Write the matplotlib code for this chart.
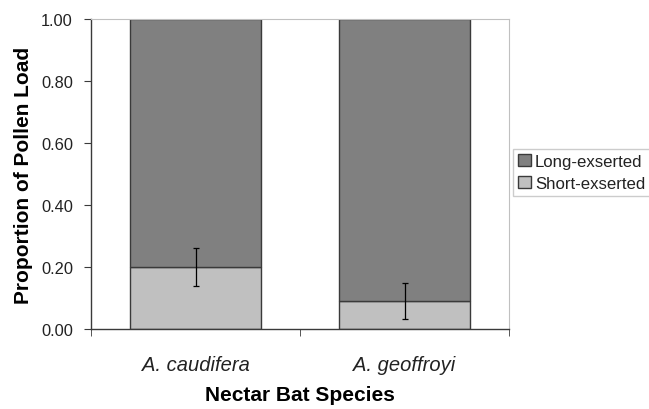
import matplotlib.pyplot as plt
import numpy as np

species = ["A. caudifera", "A. geoffroyi"]
short_prop = [0.20, 0.09]
short_err = [0.06, 0.057]
long_prop = [1 - v for v in short_prop]
yticks = [0.0, 0.2, 0.4, 0.6, 0.8, 1.0]

plt.rcParams["font.family"] = ["Liberation Sans", "DejaVu Sans"]

fig = plt.figure(figsize=(6.49, 4.10), dpi=100)
ax = fig.add_axes([91 / 649, 80 / 410, 418 / 649, 310 / 410])

x = np.arange(len(species))
w = 0.63
ax.bar(x, short_prop, w, color="#c0c0c0", edgecolor="#3a3a3a", linewidth=1.0,
       label="Short-exserted", zorder=2)
ax.bar(x, long_prop, w, bottom=short_prop, color="#808080", edgecolor="#3a3a3a",
       linewidth=1.0, label="Long-exserted", zorder=2)
ax.errorbar(x, short_prop, yerr=short_err, fmt="none", ecolor="black",
            elinewidth=0.9, capsize=2, capthick=0.9, zorder=3)

ax.set_xlim(-0.5, len(species) - 0.5)
ax.set_ylim(0, 1)
ax.set_yticks(yticks)
ax.set_yticklabels([f"{v:.2f}" for v in yticks], fontsize=11.8, color="#222222")
ax.set_xticks(x)
ax.set_xticklabels(species, fontsize=14.5, style="italic", color="#222222")
ax.tick_params(axis="x", length=0, pad=19)
# boundary ticks on x axis
ax.set_xticks(np.arange(-0.5, len(species)), minor=True)
ax.tick_params(axis="x", which="minor", length=5, color="#3a3a3a", direction="out")
ax.tick_params(axis="y", length=5, color="#3a3a3a", direction="out", pad=8)

for s in ["top", "right"]:
    ax.spines[s].set_color("#c0c0c0")
for s in ["left", "bottom"]:
    ax.spines[s].set_color("#3a3a3a")
    ax.spines[s].set_linewidth(1.0)

ax.set_ylabel("Proportion of Pollen Load", fontsize=15, fontweight="bold", labelpad=6)
ax.set_xlabel("Nectar Bat Species", fontsize=15, fontweight="bold", labelpad=8)

h, l = ax.get_legend_handles_labels()
leg = fig.legend(h[::-1], l[::-1], loc="upper left",
                 bbox_to_anchor=(513 / 649, 1 - 150 / 410), fontsize=12.1,
                 frameon=True, fancybox=False, edgecolor="#c0c0c0",
                 handlelength=0.75, handleheight=0.75, handletextpad=0.25,
                 borderpad=0.3, labelspacing=0.4, borderaxespad=0)
for t in leg.get_texts():
    t.set_color("#222222")

fig.savefig("out.png", dpi=100)
